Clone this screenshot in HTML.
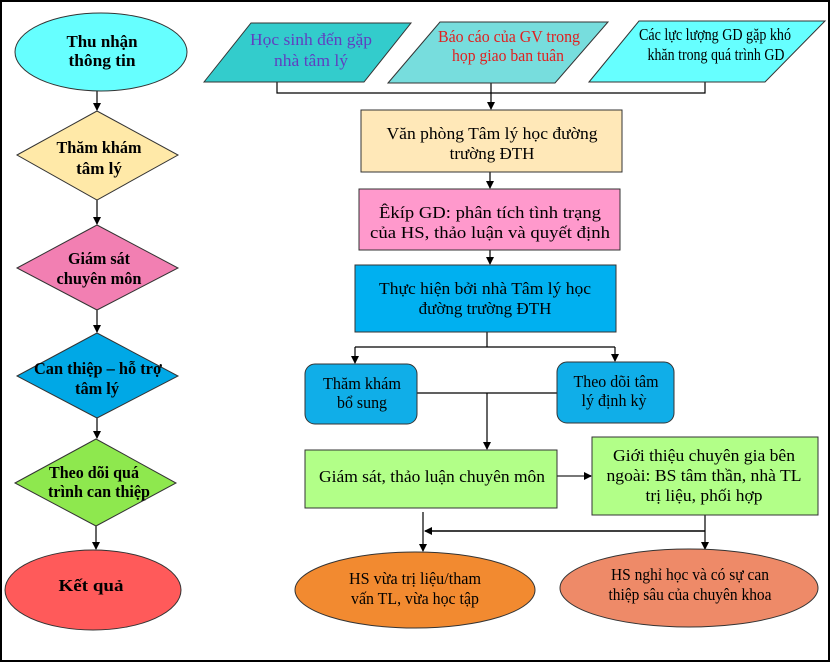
<!DOCTYPE html>
<html><head><meta charset="utf-8"><style>
html,body{margin:0;padding:0;background:#fff}
svg{display:block}
text{font-family:"Liberation Serif",serif;font-size:17px;text-anchor:middle}
.b{font-weight:bold}
</style></head><body>
<svg width="830" height="662" viewBox="0 0 830 662" xmlns="http://www.w3.org/2000/svg">
<defs><marker id="a" markerWidth="8" markerHeight="8" refX="7" refY="4" orient="auto" markerUnits="userSpaceOnUse"><path d="M0,0 L8,4 L0,8 z" fill="#000"/></marker></defs>
<rect x="1" y="1" width="828" height="660" fill="#fff" stroke="#000" stroke-width="2"/>
<g stroke="#000" stroke-width="1.2" fill="none">
<line x1="97" y1="91" x2="97" y2="110" marker-end="url(#a)"/>
<line x1="97" y1="200" x2="97" y2="224" marker-end="url(#a)"/>
<line x1="97" y1="310" x2="97" y2="332" marker-end="url(#a)"/>
<line x1="97" y1="418" x2="97" y2="438" marker-end="url(#a)"/>
<line x1="96" y1="526" x2="96" y2="549" marker-end="url(#a)"/>
<polyline points="277,82 277,93 705,93 705,82"/>
<line x1="491" y1="82" x2="491" y2="109" marker-end="url(#a)"/>
<line x1="490" y1="172" x2="490" y2="188" marker-end="url(#a)"/>
<line x1="490" y1="250" x2="490" y2="264" marker-end="url(#a)"/>
<polyline points="487,332 487,347"/>
<line x1="355" y1="347" x2="615" y2="347"/>
<line x1="355" y1="347" x2="355" y2="363" marker-end="url(#a)"/>
<line x1="615" y1="347" x2="615" y2="361" marker-end="url(#a)"/>
<line x1="417" y1="393" x2="557" y2="393"/>
<line x1="487" y1="393" x2="487" y2="449" marker-end="url(#a)"/>
<line x1="557" y1="476" x2="591" y2="476" stroke="#777" stroke-width="2" marker-end="url(#a)"/>
<line x1="423" y1="512" x2="423" y2="551" marker-end="url(#a)"/>
<line x1="705" y1="515" x2="705" y2="549" marker-end="url(#a)"/>
<line x1="705" y1="531" x2="425" y2="531" stroke-width="1.6" marker-end="url(#a)"/>
</g>
<g stroke="#333" stroke-width="1">
<ellipse cx="101" cy="52" rx="86" ry="39" fill="#66FFFF"/>
<polygon points="17,155 97,111 178,155 97,200" fill="#FFE9A8"/>
<polygon points="17,268 97,225 178,268 97,310" fill="#F27FB2"/>
<polygon points="17,376 97,333 178,376 97,418" fill="#00A8E6"/>
<polygon points="15,483 96,439 176,483 96,526" fill="#8EE84E"/>
<ellipse cx="93" cy="590" rx="88" ry="40" fill="#FF5A5A"/>
<polygon points="204,82 251,23 411,23 364,82" fill="#33CCCC"/>
<polygon points="388,83 440,22 608,22 555,83" fill="#77DDDD"/>
<polygon points="589,82 639,21 825,21 765,82" fill="#66FFFF"/>
<rect x="361" y="110" width="261" height="62" fill="#FFE8B8"/>
<rect x="359" y="189" width="261" height="61" fill="#FF99CC"/>
<rect x="355" y="265" width="261" height="67" fill="#00B0F0"/>
<rect x="305" y="364" width="112" height="60" rx="10" fill="#10AEE8"/>
<rect x="557" y="362" width="117" height="61" rx="10" fill="#10AEE8"/>
<rect x="305" y="450" width="252" height="58" fill="#B2FF88"/>
<rect x="592" y="437" width="226" height="78" fill="#B2FF88"/>
<ellipse cx="415" cy="590" rx="120" ry="38" fill="#F28A30"/>
<ellipse cx="689" cy="588" rx="129" ry="39" fill="#EE8A68"/>
</g>
<g class="b">
<text x="102" y="47" textLength="71" lengthAdjust="spacingAndGlyphs">Thu nhận</text><text x="102" y="66" textLength="67" lengthAdjust="spacingAndGlyphs">thông tin</text>
<text x="99" y="153" textLength="85" lengthAdjust="spacingAndGlyphs">Thăm khám</text><text x="99" y="174">tâm lý</text>
<text x="99" y="264" textLength="62" lengthAdjust="spacingAndGlyphs">Giám sát</text><text x="99" y="284" textLength="85" lengthAdjust="spacingAndGlyphs">chuyên môn</text>
<text x="98" y="374" textLength="128" lengthAdjust="spacingAndGlyphs">Can thiệp – hỗ trợ</text><text x="97" y="394" textLength="44" lengthAdjust="spacingAndGlyphs">tâm lý</text>
<text x="94" y="478" textLength="90" lengthAdjust="spacingAndGlyphs">Theo dõi quá</text><text x="99" y="497" textLength="102" lengthAdjust="spacingAndGlyphs">trình can thiệp</text>
<text x="91" y="591" textLength="65" lengthAdjust="spacingAndGlyphs">Kết quả</text>
</g>
<text x="311" y="45" fill="#6040C0" textLength="122" lengthAdjust="spacingAndGlyphs">Học sinh đến gặp</text><text x="311" y="66" fill="#6040C0" textLength="74" lengthAdjust="spacingAndGlyphs">nhà tâm lý</text>
<text x="509" y="42" fill="#E02020" textLength="142" lengthAdjust="spacingAndGlyphs">Báo cáo của GV trong</text><text x="508" y="61" fill="#E02020" textLength="112" lengthAdjust="spacingAndGlyphs">họp giao ban tuân</text>
<text x="715" y="40" textLength="152" lengthAdjust="spacingAndGlyphs">Các lực lượng GD gặp khó</text><text x="716" y="60" textLength="137" lengthAdjust="spacingAndGlyphs">khăn trong quá trình GD</text>
<text x="492" y="139" textLength="211" lengthAdjust="spacingAndGlyphs">Văn phòng Tâm lý học đường</text><text x="492" y="159">trường ĐTH</text>
<text x="490" y="218" textLength="222" lengthAdjust="spacingAndGlyphs">Êkíp GD: phân tích tình trạng</text><text x="490" y="238" textLength="240" lengthAdjust="spacingAndGlyphs">của HS, thảo luận và quyết định</text>
<text x="485" y="294" textLength="212" lengthAdjust="spacingAndGlyphs">Thực hiện bởi nhà Tâm lý học</text><text x="485" y="314">đường trường ĐTH</text>
<text x="362" y="389" textLength="78" lengthAdjust="spacingAndGlyphs">Thăm khám</text><text x="362" y="408" textLength="50" lengthAdjust="spacingAndGlyphs">bổ sung</text>
<text x="616" y="387" textLength="85" lengthAdjust="spacingAndGlyphs">Theo dõi tâm</text><text x="614" y="406" textLength="65" lengthAdjust="spacingAndGlyphs">lý định kỳ</text>
<text x="432" y="482" textLength="226" lengthAdjust="spacingAndGlyphs">Giám sát, thảo luận chuyên môn</text>
<text x="704" y="461" textLength="182" lengthAdjust="spacingAndGlyphs">Giới thiệu chuyên gia bên</text><text x="704" y="481" textLength="195" lengthAdjust="spacingAndGlyphs">ngoài: BS tâm thần, nhà TL</text><text x="704" y="501" textLength="117" lengthAdjust="spacingAndGlyphs">trị liệu, phối hợp</text>
<text x="415" y="584" textLength="132" lengthAdjust="spacingAndGlyphs">HS vừa trị liệu/tham</text><text x="415" y="604" textLength="128" lengthAdjust="spacingAndGlyphs">vấn TL, vừa học tập</text>
<text x="690" y="580" textLength="158" lengthAdjust="spacingAndGlyphs">HS nghỉ học và có sự can</text><text x="690" y="600" textLength="163" lengthAdjust="spacingAndGlyphs">thiệp sâu của chuyên khoa</text>
</svg>
</body></html>
